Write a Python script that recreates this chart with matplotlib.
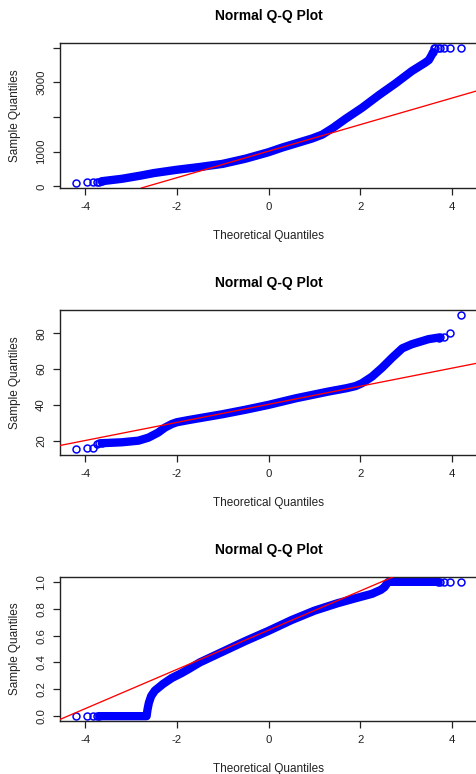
import matplotlib
matplotlib.use("Agg")
import matplotlib.pyplot as plt

plt.rcParams['font.family'] = ['Liberation Sans', 'DejaVu Sans']

# values (theoretical quantile, sample quantile)
# panel 1
p1_lo_x = [-4.21, -3.96, -3.84, -3.75, -3.69, -3.64]
p1_lo_y = [105, 115, 125, 135, 140, 145]
p1_band_x = [-3.64, -3.2, -2.8, -2.5, -2.0, -1.5, -1.0, -0.5, 0.0, 0.3, 0.7,
             0.95, 1.17, 1.4, 1.68, 2.04, 2.41, 2.77, 3.13, 3.42, 3.5, 3.56,
             3.59]
p1_band_y = [150, 220, 310, 385, 480, 560, 650, 800, 985, 1120, 1280,
             1380, 1490, 1680, 1945, 2263, 2630, 2965, 3324, 3563, 3640, 3780,
             3860]
p1_hi_x = [3.59, 3.61, 3.64, 3.69, 3.75, 3.84, 3.96, 4.21]
p1_hi_y = [3860, 3990, 3995, 3995, 3995, 3995, 3995, 3995]
p1_line = (1015, 382)  # intercept, slope
p1_ylim = (-45, 4130)
p1_yticks = [0, 1000, 2000, 3000, 4000]
p1_ylabels = ["0", "1000", "", "3000", ""]

# panel 2
p2_lo_x = [-4.21, -3.96, -3.84, -3.75, -3.69, -3.64]
p2_lo_y = [15.2, 15.8, 15.8, 18.4, 18.5, 18.6]
p2_band_x = [-3.64, -3.2, -2.84, -2.62, -2.41, -2.26, -2.11, -2.0, -1.75,
             -1.5, -1.0, -0.5, 0.0, 0.6, 1.3, 1.7, 1.9, 2.04, 2.26, 2.48, 2.7,
             2.92, 3.13, 3.49, 3.71]
p2_band_y = [18.6, 19.1, 20.0, 21.7, 24.5, 27.3, 29.3, 30.3, 31.5,
             32.6, 34.8, 37.3, 40.0, 43.7, 47.4, 49.3, 50.5, 52.1, 55.8, 60.8,
             66.4, 71.6, 73.9, 76.7, 77.6]
p2_hi_x = [3.71, 3.75, 3.84, 3.96, 4.21]
p2_hi_y = [77.6, 77.7, 77.9, 80.0, 90.2]
p2_line = (40.3, 5.05)
p2_ylim = (12.0, 93.0)
p2_yticks = [20, 40, 60, 80]
p2_ylabels = ["20", "40", "60", "80"]

# panel 3
p3_lo_x = [-4.21, -3.96, -3.84, -3.75, -3.69]
p3_lo_y = [0.0, 0.0, 0.0, 0.0, 0.0]
p3_band_x = [-3.69, -2.66, -2.64, -2.61, -2.56, -2.48, -2.3, -2.11, -1.9,
             -1.75, -1.5, -1.0, -0.5, 0.0, 0.5, 1.0, 1.5, 1.9, 2.26, 2.45,
             2.53, 2.58, 2.62, 3.69]
p3_band_y = [0.0, 0.0, 0.05, 0.1, 0.15, 0.19, 0.24, 0.284, 0.32,
             0.349, 0.40, 0.48, 0.56, 0.635, 0.715, 0.785, 0.84, 0.878, 0.911,
             0.94, 0.96, 0.985, 1.0, 1.0]
p3_hi_x = [3.69, 3.75, 3.84, 3.96, 4.21]
p3_hi_y = [1.0, 1.0, 1.0, 1.0, 1.0]
p3_line = (0.64, 0.146)
p3_ylim = (-0.036, 1.036)
p3_yticks = [0.0, 0.2, 0.4, 0.6, 0.8, 1.0]
p3_ylabels = ["0.0", "0.2", "0.4", "0.6", "0.8", "1.0"]

xticks = [-4, -2, 0, 2, 4]
xlim = (-4.55, 4.55)


def draw_panel(ax, lo_x, lo_y, band_x, band_y, hi_x, hi_y, line, ylim,
               yticks, ylabels):
    ax.plot(band_x, band_y, color="blue", lw=6.0, solid_capstyle="round",
            solid_joinstyle="round", zorder=2)
    ax.plot(lo_x, lo_y, "o", mfc="none", mec="blue", ms=5, mew=1.1, zorder=2)
    ax.plot(hi_x, hi_y, "o", mfc="none", mec="blue", ms=5, mew=1.1, zorder=2)
    ax.axline((0, line[0]), slope=line[1], color="red", lw=0.95, zorder=3)

    ax.set_xlim(*xlim)
    ax.set_ylim(*ylim)
    ax.set_xticks(xticks)
    ax.set_xticklabels([str(t) for t in xticks])
    ax.set_yticks(yticks)
    ax.set_yticklabels(ylabels, rotation=90, va="center")
    ax.tick_params(length=5, width=0.9, color="#222222", labelsize=8.2,
                   labelcolor="#222222", pad=5)
    for s in ax.spines.values():
        s.set_linewidth(1.0)
        s.set_color("#222222")

    ax.set_title("Normal Q-Q Plot", fontweight="bold", fontsize=10,
                 y=1 + 27 / 145, pad=0, va="center")
    ax.set_xlabel("Theoretical Quantiles", fontsize=8.5, color="#222222")
    ax.xaxis.set_label_coords(0.5, -48 / 145)
    ax.xaxis.label.set_va("center")
    ax.set_ylabel("Sample Quantiles", fontsize=8.5, color="#222222")
    ax.yaxis.set_label_coords(-45 / 417, 0.5)
    ax.yaxis.label.set_va("center")


def main():
    fig = plt.figure(figsize=(4.76, 7.74), dpi=100)
    left = 60 / 476
    width = 417 / 476
    height = 145 / 774

    ax1 = fig.add_axes([left, (774 - 188) / 774, width, height])
    draw_panel(ax1, p1_lo_x, p1_lo_y, p1_band_x, p1_band_y, p1_hi_x, p1_hi_y,
               p1_line, p1_ylim, p1_yticks, p1_ylabels)

    ax2 = fig.add_axes([left, (774 - 455) / 774, width, height])
    draw_panel(ax2, p2_lo_x, p2_lo_y, p2_band_x, p2_band_y, p2_hi_x, p2_hi_y,
               p2_line, p2_ylim, p2_yticks, p2_ylabels)

    ax3 = fig.add_axes([left, (774 - 721) / 774, width, 144 / 774])
    draw_panel(ax3, p3_lo_x, p3_lo_y, p3_band_x, p3_band_y, p3_hi_x, p3_hi_y,
               p3_line, p3_ylim, p3_yticks, p3_ylabels)

    fig.savefig("out.png", dpi=100)


if __name__ == '__main__':
    main()
